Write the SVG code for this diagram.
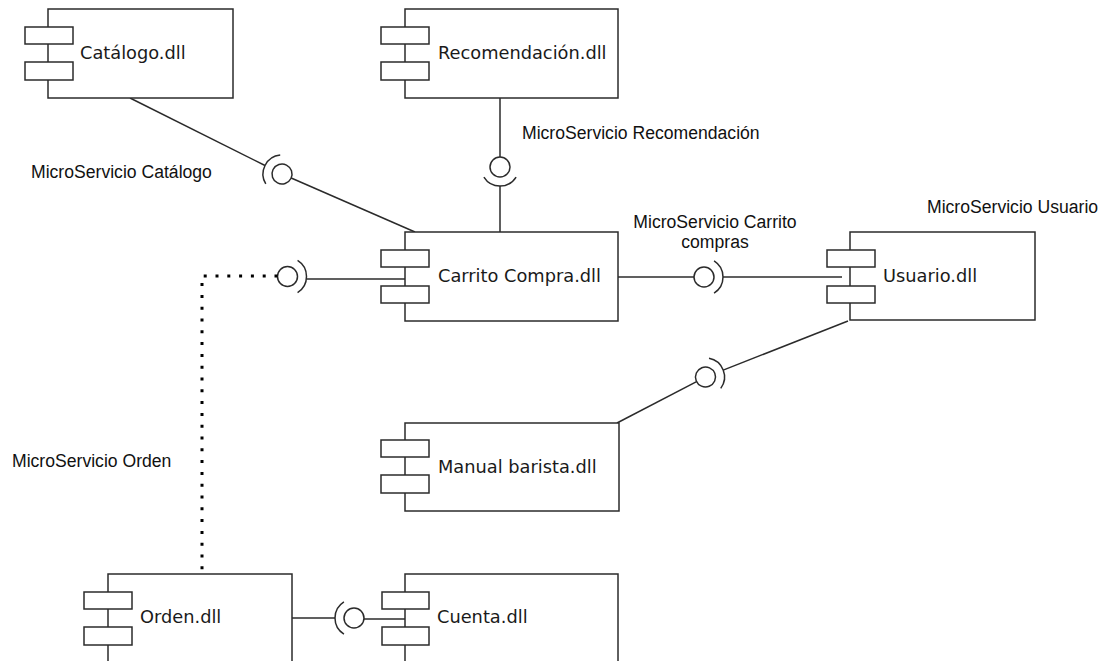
<svg xmlns="http://www.w3.org/2000/svg" xmlns:xlink="http://www.w3.org/1999/xlink" width="1106" height="661" viewBox="0 0 1106 661">
  <style>
    .box { fill: #ffffff; stroke: #2b2b2b; stroke-width: 1.5; }
    .port { fill: #ffffff; stroke: #2b2b2b; stroke-width: 1.5; }
    .name { font-family: "DejaVu Sans", Verdana, sans-serif; font-size: 17.8px; fill: #1a1a1a; }
    .label { font-family: "Liberation Sans", Arial, sans-serif; font-size: 17.6px; fill: #111111; }
    .wire { fill: none; stroke: #2b2b2b; stroke-width: 1.5; }
    .dots { fill: none; stroke: #000000; stroke-width: 3; stroke-dasharray: 3 8.8; }
  </style>
  <defs>
    <!-- ball-and-socket interface: ball at origin, socket arc opening toward +x -->
    <g id="iface">
      <circle cx="0" cy="0" r="10" fill="#ffffff" stroke="#2b2b2b" stroke-width="1.5"/>
      <path d="M 10.07,-16.11 A 19 19 0 0 1 10.07,16.11" fill="none" stroke="#2b2b2b" stroke-width="1.5"/>
    </g>
  </defs>
  <rect x="0" y="0" width="1106" height="661" fill="#ffffff"/>

  <!-- connectors -->
  <g id="connectors">
    <!-- Catalogo - Carrito -->
    <line class="wire" x1="130" y1="98" x2="265" y2="165.5"/>
    <line class="wire" x1="291.2" y1="178" x2="415" y2="232"/>
    <use xlink:href="#iface" href="#iface" transform="translate(282,174) rotate(206.6)"/>
    <!-- Recomendacion - Carrito -->
    <line class="wire" x1="500" y1="98" x2="500" y2="157"/>
    <line class="wire" x1="500" y1="186" x2="500" y2="232"/>
    <use xlink:href="#iface" href="#iface" transform="translate(500,167) rotate(90)"/>
    <!-- Orden - Carrito -->
    <line class="wire" x1="306.5" y1="279" x2="410" y2="279"/>
    <use xlink:href="#iface" href="#iface" transform="translate(287.5,276.5) rotate(0)"/>
    <path class="dots" d="M 277.5,276 H 202 V 574"/>
    <!-- Carrito - Usuario -->
    <line class="wire" x1="618" y1="277" x2="694" y2="277"/>
    <line class="wire" x1="723" y1="277" x2="842" y2="277"/>
    <use xlink:href="#iface" href="#iface" transform="translate(704,277) rotate(0)"/>
    <!-- Usuario - Manual barista -->
    <line class="wire" x1="723.2" y1="370.1" x2="848" y2="321"/>
    <line class="wire" x1="696.6" y1="381.6" x2="617" y2="423"/>
    <use xlink:href="#iface" href="#iface" transform="translate(705.5,377) rotate(-21.4)"/>
    <!-- Orden - Cuenta -->
    <line class="wire" x1="292" y1="618" x2="335" y2="618"/>
    <line class="wire" x1="364" y1="619" x2="408" y2="619"/>
    <use xlink:href="#iface" href="#iface" transform="translate(354,618) rotate(180)"/>
  </g>

  <!-- components -->
  <g id="catalogo">
    <rect class="box" x="48" y="9" width="185" height="89"/>
    <rect class="port" x="25" y="27" width="48" height="17"/>
    <rect class="port" x="25" y="62" width="48" height="18"/>
    <text class="name" x="80" y="59">Catálogo.dll</text>
  </g>
  <g id="recomendacion">
    <rect class="box" x="405" y="9" width="213" height="89"/>
    <rect class="port" x="381" y="27" width="48" height="17"/>
    <rect class="port" x="381" y="62" width="48" height="18"/>
    <text class="name" x="438" y="59">Recomendación.dll</text>
  </g>
  <g id="carrito">
    <rect class="box" x="405" y="232" width="213" height="89"/>
    <rect class="port" x="381" y="250" width="48" height="17"/>
    <rect class="port" x="381" y="286" width="48" height="17"/>
    <text class="name" x="438" y="282">Carrito Compra.dll</text>
  </g>
  <g id="usuario">
    <rect class="box" x="850" y="232" width="185" height="88"/>
    <rect class="port" x="827" y="250" width="48" height="17"/>
    <rect class="port" x="827" y="286" width="48" height="17"/>
    <text class="name" x="883" y="282">Usuario.dll</text>
  </g>
  <g id="manual">
    <rect class="box" x="405" y="423" width="214" height="88"/>
    <rect class="port" x="381" y="440" width="48" height="17"/>
    <rect class="port" x="381" y="475" width="48" height="18"/>
    <text class="name" x="438" y="473">Manual barista.dll</text>
  </g>
  <g id="orden">
    <rect class="box" x="108" y="574" width="184" height="89"/>
    <rect class="port" x="84" y="592" width="48" height="17"/>
    <rect class="port" x="84" y="627" width="48" height="18"/>
    <text class="name" x="140" y="623">Orden.dll</text>
  </g>
  <g id="cuenta">
    <rect class="box" x="405" y="574" width="213" height="89"/>
    <rect class="port" x="382" y="592" width="47" height="17"/>
    <rect class="port" x="382" y="627" width="47" height="18"/>
    <text class="name" x="437" y="623">Cuenta.dll</text>
  </g>

  <!-- interface labels -->
  <g id="labels">
    <text class="label" x="31" y="178">MicroServicio Catálogo</text>
    <text class="label" x="522" y="139">MicroServicio Recomendación</text>
    <text class="label" x="715" y="228" text-anchor="middle">MicroServicio Carrito</text>
    <text class="label" x="715" y="248" text-anchor="middle">compras</text>
    <text class="label" x="927" y="213">MicroServicio Usuario</text>
    <text class="label" x="12" y="467">MicroServicio Orden</text>
  </g>
</svg>
